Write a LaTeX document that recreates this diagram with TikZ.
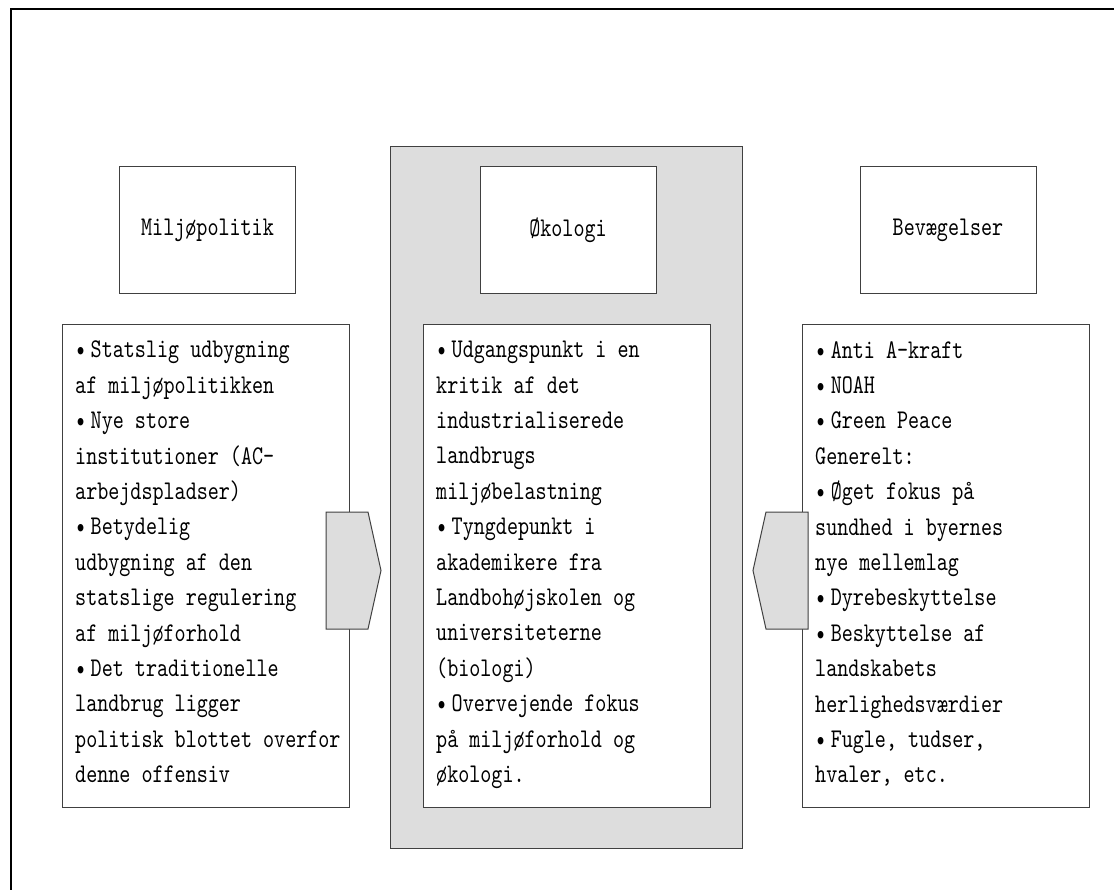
\documentclass[tikz,border=0pt]{standalone}
\usepackage{fontspec}
\newfontfamily\courfont[FakeStretch=0.78]{lmmono10-regular.otf}
\usetikzlibrary{positioning}
\definecolor{panelgray}{HTML}{DDDDDD}
\definecolor{edgegray}{HTML}{404040}
\begin{document}
\begin{tikzpicture}[x=1pt,y=-1pt,line join=miter,
		box/.style={draw=edgegray,line width=1pt,fill=white,inner sep=0pt},
		titlebox/.style={box,minimum width=176pt,minimum height=127pt,font=\courfont\fontsize{27}{35.4}\selectfont},
		listbox/.style={box,anchor=north west,minimum width=287pt,minimum height=483pt},
		listtext/.style={anchor=north west,align=left,inner sep=0pt,font=\courfont\fontsize{27}{35.4}\selectfont},
		pointer/.style={draw=edgegray,line width=1pt,fill=panelgray}]
	\useasboundingbox (0,0) rectangle (1114,890);
	\draw[line width=2.5pt] (11,890)--(11,9)--(1114,9);
	\node[pointer,inner sep=0pt,minimum width=352pt,minimum height=701pt] (okoarea) at (566.5,497.5) {};
	\node[titlebox] (miljo) at (207.5,230.5) {Miljøpolitik};
	\node[titlebox] (oko) at (568,230.5) {Økologi};
	\node[titlebox] (bevaeg) at (948,230.5) {Bevægelser};
	\node[listbox] (miljolist) at (62,324) {};
	\node[listbox] (okolist) at (423,324) {};
	\node[listbox] (bevaeglist) at (802,324) {};
	\node[listtext] (miljotxt) at ([xshift=13pt,yshift=-17pt]miljolist.north west) {%
		•\,Statslig udbygning\\af miljøpolitikken\\•\,Nye store\\institutioner (AC-\\arbejdspladser)\\
		•\,Betydelig\\udbygning af den\\statslige regulering\\af miljøforhold\\
		•\,Det traditionelle\\landbrug ligger\\politisk blottet overfor\\denne offensiv};
	\node[listtext] (okotxt) at ([xshift=13pt,yshift=-17pt]okolist.north west) {%
		•\,Udgangspunkt i en\\kritik af det\\industrialiserede\\landbrugs\\miljøbelastning\\
		•\,Tyngdepunkt i\\akademikere fra\\Landbohøjskolen og\\universiteterne\\(biologi)\\
		•\,Overvejende fokus\\på miljøforhold og\\økologi.};
	\node[listtext] (bevaegtxt) at ([xshift=13pt,yshift=-17pt]bevaeglist.north west) {%
		•\,Anti A-kraft\\•\,NOAH\\•\,Green Peace\\Generelt:\\•\,Øget fokus på\\sundhed i byernes\\nye mellemlag\\
		•\,Dyrebeskyttelse\\•\,Beskyttelse af\\landskabets\\herlighedsværdier\\•\,Fugle, tudser,\\hvaler, etc.};
	\draw[pointer] (326,512)--(368,512)--(381,570.5)--(368,629)--(326,629)--cycle;
	\draw[pointer] (808,512)--(766,512)--(753,570.5)--(766,629)--(808,629)--cycle;
\end{tikzpicture}
\end{document}
